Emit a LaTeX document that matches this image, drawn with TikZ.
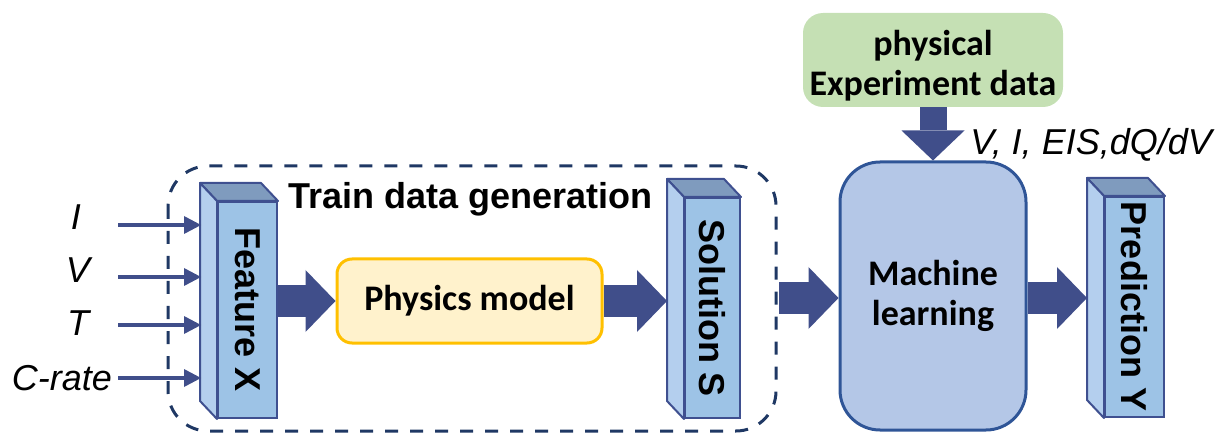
\documentclass[tikz,border=0pt]{standalone}
\usepackage{fontspec}
\setmainfont{Liberation Sans}
\newfontfamily\calfont{Carlito}
\usetikzlibrary{arrows.meta,calc}
\definecolor{arrowc}{RGB}{64,78,138}
\definecolor{edgec}{RGB}{63,80,144}
\definecolor{frontc}{RGB}{157,195,230}
\definecolor{sidec}{RGB}{180,207,238}
\definecolor{topc}{RGB}{127,155,190}
\definecolor{navyc}{RGB}{31,56,100}
\definecolor{mlfill}{RGB}{180,199,231}
\definecolor{mledge}{RGB}{47,85,151}
\definecolor{pmfill}{RGB}{255,242,204}
\definecolor{pmedge}{RGB}{255,192,0}
\definecolor{expfill}{RGB}{197,224,180}
\begin{document}
\begin{tikzpicture}[x=0.5pt,y=-0.5pt,
  front/.style={draw=edgec,fill=frontc,line width=1pt,inner sep=0pt},
  face/.style={draw=edgec,line width=1pt,line join=round},
  boxtext/.style={font=\bfseries\fontsize{18}{20}\selectfont},
  caltext/.style={font=\calfont\bfseries\fontsize{18}{20}\selectfont},
  inlabel/.style={font=\itshape\fontsize{18}{20}\selectfont,inner sep=0pt},
  thinarrow/.style={draw=arrowc,line width=2.2pt,-{Triangle[width=9pt,length=8.5pt,line width=0pt]}},
  bigarrow/.style={draw=arrowc,line width=15.5pt,-{Triangle[width=31pt,length=15pt,line width=0pt]}},
  dashbox/.style={draw=navyc,line width=1.5pt,dash pattern=on 6.5pt off 6pt,rounded corners=20pt},
  pmbox/.style={draw=pmedge,fill=pmfill,line width=1.5pt,rounded corners=7.5pt,
    minimum width=132.5pt,minimum height=42pt,caltext},
  mlbox/.style={draw=mledge,fill=mlfill,line width=1.5pt,rounded corners=20pt,
    minimum width=93pt,minimum height=134pt,align=center,caltext},
  expbox/.style={fill=expfill,rounded corners=10pt,minimum width=130pt,minimum height=47pt}]
\useasboundingbox (0,0) rectangle (1228,433);

% dashed frame of the training-data stage
\draw[dashbox] (168,166) rectangle (776,431);
\node[anchor=base,boxtext] (gentxt) at (470.5,209) {Train data generation};

% front faces of the three prism blocks
\node[front,minimum width=29.5pt,minimum height=108pt] (fx) at (247.5,310) {};
\node[front,minimum width=27.5pt,minimum height=110pt] (sx) at (712.5,308) {};
\node[front,minimum width=29.5pt,minimum height=110pt] (py) at (1134.5,307) {};
% top and side faces
\foreach \b in {fx,sx,py}{
  \draw[face,fill=topc] (\b.north west) -- ++(-17,-18) -- ($(\b.north east)+(-17,-18)$) -- (\b.north east) -- cycle;
  \draw[face,fill=sidec] (\b.north west) -- ++(-17,-18) -- ($(\b.south west)+(-17,-18)$) -- (\b.south west) -- cycle;
}
\node[boxtext,rotate=-90] (fxt) at (fx.center) {Feature X};
\node[boxtext,rotate=-90] (sxt) at (sx.center) {Solution S};
\node[boxtext,rotate=-90] (pyt) at (py.center) {Prediction Y};

% input variables
\foreach \n/\y/\t/\lx/\ly in {i/225/I/76/217, v/277/V/78/270, t/325/T/78/323, c/378/C-rate/62/378}{
  \node[inlabel] (l\n) at (\lx,\ly) {\t};
  \coordinate (s\n) at (118,\y);
  \coordinate (e\n) at (201,\y);
  \draw[thinarrow] (s\n) -- (e\n);
}

% physics model, machine learning and experiment data
\node[pmbox] (pm) at (469.5,301) {Physics model};
\node[mlbox] (ml) at (933,296) {Machine\\learning};
\node[expbox] (exp) at (933,60) {};
\node[caltext,align=center,inner sep=0pt] (expt) at (933,66) {physical\\Experiment data};
\node[inlabel,anchor=west] (dlab) at (970,145) {V, I, EIS,dQ/dV};

% block arrows
\draw[bigarrow] (fx.east |- pm.west) -- (pm.west);
\draw[bigarrow] (pm.east) -- ($(sx.west |- pm.east)+(-17,0)$);
\coordinate (sxo) at (779,298);
\draw[bigarrow] (sxo) -- (ml.west |- sxo);
\draw[bigarrow] (ml.east |- sxo) -- ($(py.west |- sxo)+(-17,0)$);
\draw[bigarrow,line width=13.5pt,-{Triangle[width=31.5pt,length=15pt,line width=0pt]}] (exp.south) -- (ml.north);
\end{tikzpicture}
\end{document}
